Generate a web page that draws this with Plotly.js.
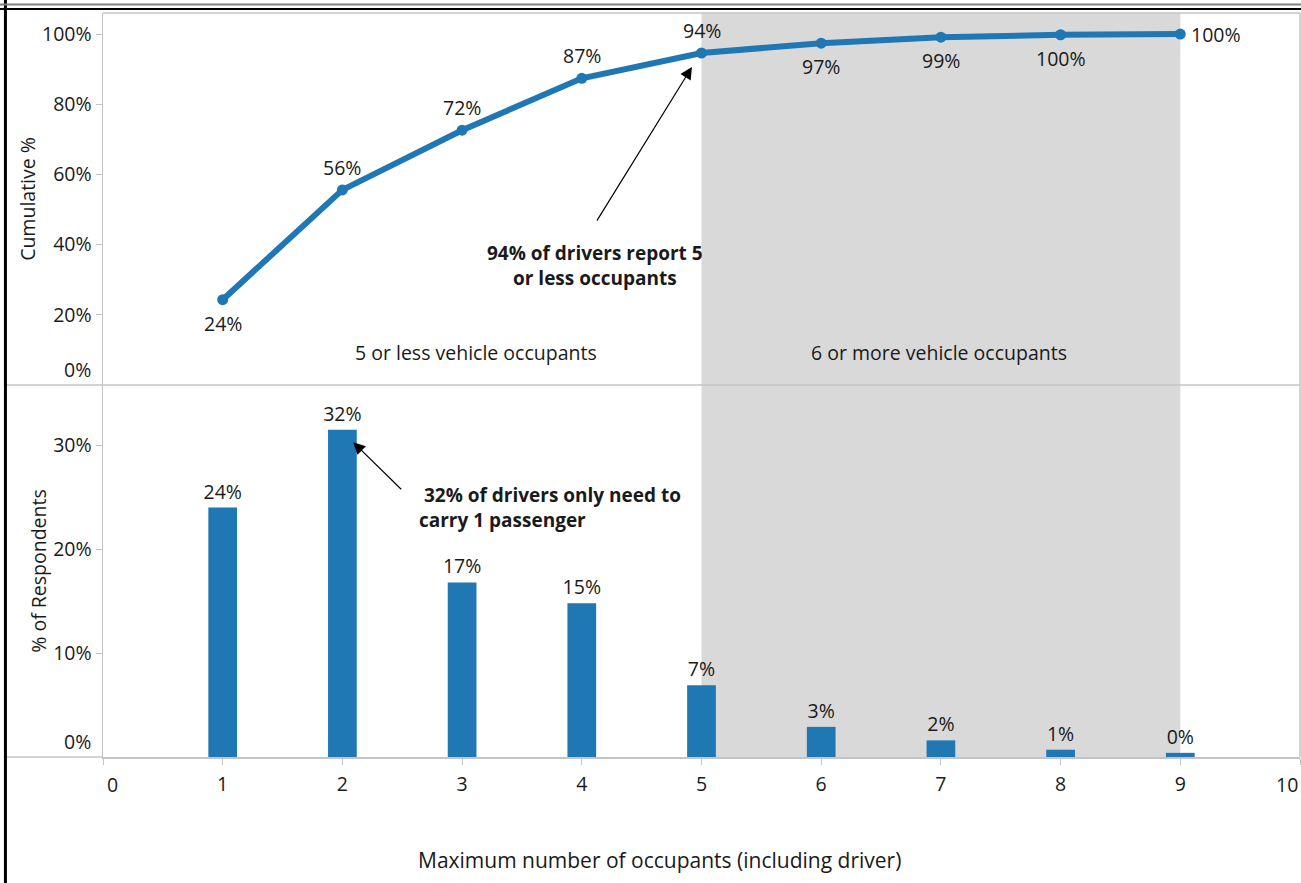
<!DOCTYPE html>
<html>
<head>
<meta charset="utf-8">
<script src="https://cdn.plot.ly/plotly-3.0.1.min.js"></script>
<style>html,body{margin:0;padding:0;background:#fff;}#chart{width:1301px;height:883px;}</style>
</head>
<body>
<div id="chart"></div>
<script>
const occupants = [1, 2, 3, 4, 5, 6, 7, 8, 9];
const pctRespondents = [24.0, 31.5, 16.8, 14.8, 6.9, 2.9, 1.6, 0.7, 0.4];
const barLabels = ['24%', '32%', '17%', '15%', '7%', '3%', '2%', '1%', '0%'];
const cumulativePct = [24.3, 55.6, 72.6, 87.4, 94.6, 97.4, 99.1, 99.8, 100.0];
const cumLabels = ['24%', '56%', '72%', '87%', '94%', '97%', '99%', '100%', '100%'];
const cumLabelSide = ['below', 'above', 'above', 'above', 'above', 'below', 'below', 'below', 'right'];
const xTickVals = [0, 1, 2, 3, 4, 5, 6, 7, 8, 9, 10];
const xTickText = ['', '1', '2', '3', '4', '5', '6', '7', '8', '9', ''];
const cumTickVals = [20, 40, 60, 80, 100];
const cumTickText = ['20%', '40%', '60%', '80%', '100%'];
const respTickVals = [10, 20, 30];
const respTickText = ['10%', '20%', '30%'];

const FONT = 'Open Sans, Noto Sans, sans-serif';
const FS = 19.5;
const BLUE = '#1f77b4';
const GRID = '#c4c4c4';
const TXT = '#1a1a1a';

const traces = [
  {
    type: 'bar', x: occupants, y: pctRespondents, xaxis: 'x', yaxis: 'y',
    width: 0.24, marker: {color: BLUE},
    text: barLabels, textposition: 'outside', cliponaxis: false, constraintext: 'none',
    textfont: {family: FONT, size: FS, color: TXT}, hoverinfo: 'skip'
  },
  {
    type: 'scatter', mode: 'lines+markers', x: occupants, y: cumulativePct,
    xaxis: 'x2', yaxis: 'y2', cliponaxis: false,
    line: {color: BLUE, width: 6}, marker: {color: BLUE, size: 11}, hoverinfo: 'skip'
  }
];

const cumAnnotations = occupants.map((x, i) => {
  const side = cumLabelSide[i];
  const a = {xref: 'x2', yref: 'y2', x: x, y: cumulativePct[i], text: cumLabels[i],
             showarrow: false, font: {size: FS, color: TXT}};
  if (side === 'above') { a.yanchor = 'bottom'; a.yshift = 7; }
  else if (side === 'below') { a.yanchor = 'top'; a.yshift = -8; }
  else { a.xanchor = 'left'; a.xshift = 9; }
  return a;
});

const L = -0.0815;
const layout = {
  width: 1301, height: 883,
  margin: {l: 103, r: 1, t: 13, b: 126},
  paper_bgcolor: '#fff', plot_bgcolor: 'rgba(0,0,0,0)',
  showlegend: false,
  font: {family: FONT, size: FS, color: TXT},
  xaxis: {
    domain: [0, 1], range: [0, 10], anchor: 'y',
    tickvals: xTickVals, ticktext: xTickText,
    ticks: 'outside', ticklen: 6, tickcolor: GRID, tickfont: {size: FS, color: TXT},
    ticklabelstandoff: 3,
    showline: true, linecolor: GRID, linewidth: 1.5, showgrid: false, zeroline: false
  },
  xaxis2: {
    domain: [0, 1], range: [0, 10], anchor: 'y2', matches: 'x',
    showticklabels: false, ticks: '', showline: false, showgrid: false, zeroline: false
  },
  yaxis: {
    domain: [0, 0.5], range: [0, 35.8], anchor: 'x',
    tickvals: respTickVals, ticktext: respTickText,
    ticks: 'outside', ticklen: 6, tickcolor: GRID, tickfont: {size: FS, color: TXT},
    showline: true, linecolor: GRID, linewidth: 1.5, showgrid: false, zeroline: false,
    title: {text: '% of Respondents', font: {size: FS, color: TXT}, standoff: 1}
  },
  yaxis2: {
    domain: [0.5, 1], range: [0, 106], anchor: 'x2',
    tickvals: cumTickVals, ticktext: cumTickText,
    ticks: 'outside', ticklen: 6, tickcolor: GRID, tickfont: {size: FS, color: TXT},
    showline: true, linecolor: GRID, linewidth: 1.5, showgrid: false, zeroline: false,
    title: {text: 'Cumulative %', font: {size: FS, color: TXT}, standoff: 1}
  },
  shapes: [
    {type: 'rect', xref: 'x', yref: 'paper', x0: 5, x1: 9, y0: 0, y1: 1,
     fillcolor: '#d9d9d9', line: {width: 0}, layer: 'below'},
    {type: 'line', xref: 'paper', yref: 'paper', x0: 0, x1: 1, y0: 1, y1: 1,
     line: {color: GRID, width: 1.5}},
    {type: 'line', xref: 'paper', yref: 'paper', x0: 1, x1: 1, y0: 0, y1: 1,
     line: {color: GRID, width: 1.5}},
    {type: 'line', xref: 'paper', yref: 'paper', x0: L, x1: 1, y0: 0.5, y1: 0.5,
     line: {color: GRID, width: 1.5}},
    {type: 'line', xref: 'paper', yref: 'paper', x0: L, x1: 0, y0: 0, y1: 0,
     line: {color: GRID, width: 1.5}},
    {type: 'line', xref: 'paper', yref: 'paper', x0: L, x1: L, y0: -0.18, y1: 1.02,
     line: {color: '#000', width: 3}},
    {type: 'line', xref: 'paper', yref: 'paper', x0: -0.09, x1: 1.001, y0: 1.0114, y1: 1.0114,
     line: {color: '#808080', width: 2}},
    {type: 'line', xref: 'paper', yref: 'paper', x0: -0.09, x1: 1.001, y0: 1.0054, y1: 1.0054,
     line: {color: '#000', width: 2}}
  ],
  annotations: cumAnnotations.concat([
    {xref: 'paper', yref: 'paper', x: 0.465, y: -0.1384, xanchor: 'center', yanchor: 'middle',
     text: 'Maximum number of occupants (including driver)', showarrow: false,
     font: {size: 21, color: TXT}},
    {xref: 'paper', yref: 'y2', x: -0.0084, y: 0, xanchor: 'right', yanchor: 'bottom',
     text: '0%', showarrow: false, font: {size: FS, color: TXT}},
    {xref: 'paper', yref: 'y', x: -0.0084, y: 0, xanchor: 'right', yanchor: 'bottom',
     text: '0%', showarrow: false, font: {size: FS, color: TXT}},
    {xref: 'x', yref: 'paper', x: 0, y: 0, xanchor: 'left', yanchor: 'top', xshift: 2, yshift: -12,
     text: '0', showarrow: false, font: {size: FS, color: TXT}},
    {xref: 'x', yref: 'paper', x: 10, y: 0, xanchor: 'right', yanchor: 'top', xshift: 0, yshift: -12,
     text: '10', showarrow: false, font: {size: FS, color: TXT}},
    {xref: 'x', yref: 'y2', x: 3.12, y: 9.2, text: '5 or less vehicle occupants',
     showarrow: false, font: {size: FS, color: TXT}},
    {xref: 'x', yref: 'y2', x: 6.98, y: 9.2, text: '6 or more vehicle occupants',
     showarrow: false, font: {size: FS, color: TXT}},
    {xref: 'x', yref: 'y2', x: 4.92, y: 90.6, ax: -99, ay: 160, text: ' ',
     showarrow: true, arrowhead: 2, arrowsize: 2, arrowwidth: 1.2, arrowcolor: '#000', standoff: 0},
    {xref: 'x', yref: 'y2', x: 4.11, y: 34, xanchor: 'center', yanchor: 'middle', align: 'center',
     text: '<b>94% of drivers report 5<br>or less occupants</b>', showarrow: false,
     font: {size: 19, color: TXT}},
    {xref: 'x', yref: 'y', x: 2.09, y: 30.3, ax: 52, ay: 51, text: ' ',
     showarrow: true, arrowhead: 2, arrowsize: 2, arrowwidth: 1.2, arrowcolor: '#000', standoff: 0},
    {xref: 'x', yref: 'y', x: 2.62, y: 24.0, xanchor: 'left', yanchor: 'middle', align: 'left',
     text: '<b> 32% of drivers only need to<br>carry 1 passenger</b>', showarrow: false,
     font: {size: 19, color: TXT}}
  ])
};

Plotly.newPlot('chart', traces, layout, {displayModeBar: false, staticPlot: true});
</script>
</body>
</html>
